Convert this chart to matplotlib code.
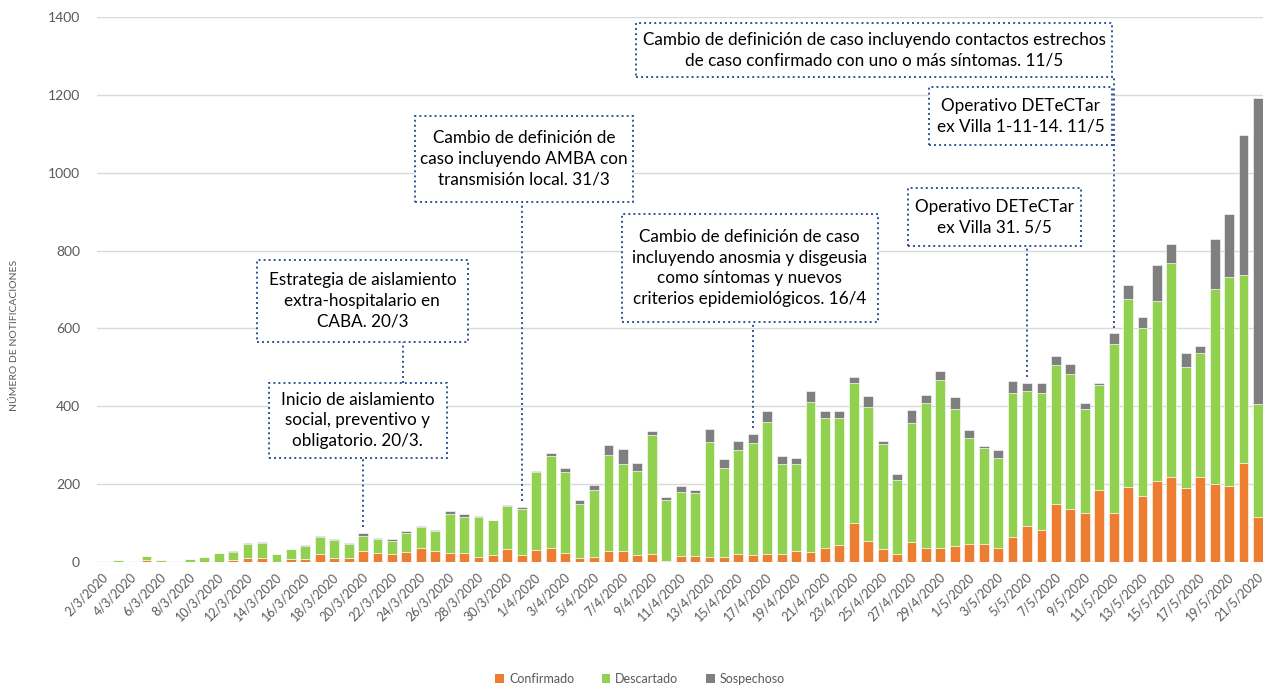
import numpy as np
import pandas as pd
import matplotlib
matplotlib.use("Agg")
import matplotlib.pyplot as plt
from matplotlib.patches import Rectangle, Patch
from matplotlib.transforms import ScaledTranslation

plt.rcParams['font.family'] = ['Lato', 'DejaVu Sans']

# fechas 2/3/2020 .. 21/5/2020
dates = pd.date_range("2020-03-02", "2020-05-21", freq="D")
date_labels = [f"{d.day}/{d.month}/{d.year}" for d in dates]

confirmado = [0, 0, 0, 5, 0, 0, 0, 0, 0, 4,
              9, 9, 0, 7, 7, 21, 11, 11, 27, 22,
              20, 26, 35, 28, 22, 24, 14, 17, 33, 19,
              31, 37, 23, 11, 14, 27, 29, 17, 21, 3,
              15, 15, 13, 13, 21, 17, 21, 20, 28, 26,
              35, 44, 99, 54, 34, 20, 52, 35, 37, 40,
              45, 47, 37, 65, 93, 83, 148, 135, 126, 184,
              125, 193, 169, 209, 218, 191, 218, 200, 196, 254,
              116]
descartado = [3, 6, 3, 10, 4, 2, 7, 14, 22, 22,
              38, 40, 21, 26, 35, 42, 45, 36, 41, 37,
              33, 49, 55, 51, 101, 91, 102, 90, 110, 118,
              200, 235, 207, 139, 172, 247, 222, 216, 305, 157,
              165, 163, 296, 229, 266, 288, 339, 231, 223, 384,
              336, 325, 360, 343, 268, 190, 306, 374, 431, 352,
              274, 245, 230, 368, 345, 352, 359, 349, 267, 271,
              434, 483, 431, 461, 549, 310, 318, 502, 535, 483,
              289]
sospechoso = [0, 0, 0, 0, 0, 0, 0, 0, 0, 2,
              2, 2, 0, 0, 2, 5, 3, 1, 7, 2,
              5, 4, 2, 2, 7, 9, 2, 0, 4, 5,
              2, 9, 11, 9, 13, 27, 38, 21, 11, 7,
              15, 6, 33, 22, 24, 25, 27, 20, 16, 28,
              17, 18, 15, 30, 10, 15, 32, 20, 22, 33,
              21, 5, 20, 31, 23, 24, 21, 24, 15, 5,
              29, 35, 30, 92, 51, 35, 19, 128, 164, 360,
              786]

series_names = ["Confirmado", "Descartado", "Sospechoso"]
colors = ["#ED7D31", "#92D050", "#7F7F7F"]

# anotaciones: texto, indice del dia, caja (x0, x1, y0, y1) en coords de datos
annotations = [
    ("Inicio de aislamiento\nsocial, preventivo y\nobligatorio. 20/3.", 18, (11.45, 23.8, 266, 461)),
    ("Estrategia de aislamiento\nextra-hospitalario en\nCABA. 20/3", None, (10.64, 25.26, 566, 777)),
    ("Cambio de definición de\ncaso incluyendo AMBA con\ntransmisión local. 31/3", 29, (21.59, 36.68, 925, 1146)),
    ("Cambio de definición de caso\nincluyendo anosmia y disgeusia\ncomo síntomas y nuevos\ncriterios epidemiológicos. 16/4",
     45, (35.92, 53.67, 617, 894)),
    ("Operativo DETeCTar\nex Villa 31. 5/5", 64, (55.75, 67.73, 813, 960)),
    ("Operativo DETeCTar\nex Villa 1-11-14. 11/5", None, (57.22, 69.92, 1071, 1219)),
    ("Cambio de definición de caso incluyendo contactos estrechos\nde caso confirmado con uno o más síntomas. 11/5",
     70, (36.91, 69.92, 1247, 1384)),
]

fig = plt.figure(figsize=(12.63, 6.86), dpi=100)
ax = fig.add_axes([0.0766, 0.1808, 0.9234, 0.7944])

x = np.arange(len(dates))
c = np.array(confirmado)
d = np.array(descartado)
s = np.array(sospechoso)
total = c + d + s

ax.bar(x, c, width=0.68, color=colors[0], edgecolor="white", linewidth=0.4, zorder=2)
ax.bar(x, d, width=0.68, bottom=c, color=colors[1], edgecolor="white", linewidth=0.4, zorder=2)
ax.bar(x, s, width=0.68, bottom=c + d, color=colors[2], edgecolor="white", linewidth=0.4, zorder=2)

ax.set_xlim(-0.45, 80.35)
ax.set_ylim(0, 1400)
ax.set_yticks(np.arange(0, 1401, 200))
ax.yaxis.grid(True, color="#D9D9D9", linewidth=1, zorder=0)
ax.set_axisbelow(True)
for sp in ax.spines.values():
    sp.set_visible(False)
ax.tick_params(axis="both", length=0, colors="#595959", labelsize=10)
ax.tick_params(axis="y", pad=12)

ax.set_xticks(x[::2])
ax.set_xticklabels(date_labels[::2], rotation=45, ha="right", va="center",
                   rotation_mode="anchor", fontsize=9, color="#595959")
offset = ScaledTranslation(2 / 72, -6 / 72, fig.dpi_scale_trans)
for lab in ax.get_xticklabels():
    lab.set_transform(lab.get_transform() + offset)

fig.text(15 / 1263, 1 - 335 / 686, "NÚMERO DE NOTIFICACIONES", rotation=90,
         ha="center", va="center", fontsize=7.5, color="#595959")

box_col = "#2F5597"
dots = (0, (1, 1.6))
for text, idx, (x0, x1, y0, y1) in annotations:
    ax.add_patch(Rectangle((x0, y0), x1 - x0, y1 - y0, facecolor="white",
                           edgecolor=box_col, linewidth=1.4, linestyle=dots, zorder=4))
    ax.text((x0 + x1) / 2, (y0 + y1) / 2, text, ha="center", va="center",
            fontsize=12.3, color="#000000", linespacing=1.35, zorder=5)
    if idx is not None:
        ax.plot([idx, idx], [total[idx] + 14, y0], color=box_col, linewidth=1.4,
                linestyle=dots, zorder=3)

# conector entre las dos cajas del 20/3
ax.plot([20.75, 20.75], [461, 566], color=box_col, linewidth=1.4, linestyle=dots, zorder=3)

handles = [Patch(facecolor=col) for col in colors]
leg = fig.legend(handles, series_names, loc="center", bbox_to_anchor=(640 / 1263, 1 - 679 / 686),
                 ncol=3, frameon=False, fontsize=9, handlelength=0.7, handleheight=0.7,
                 columnspacing=2.2, handletextpad=0.4)
for t in leg.get_texts():
    t.set_color("#595959")

fig.savefig("out.png", dpi=100)
